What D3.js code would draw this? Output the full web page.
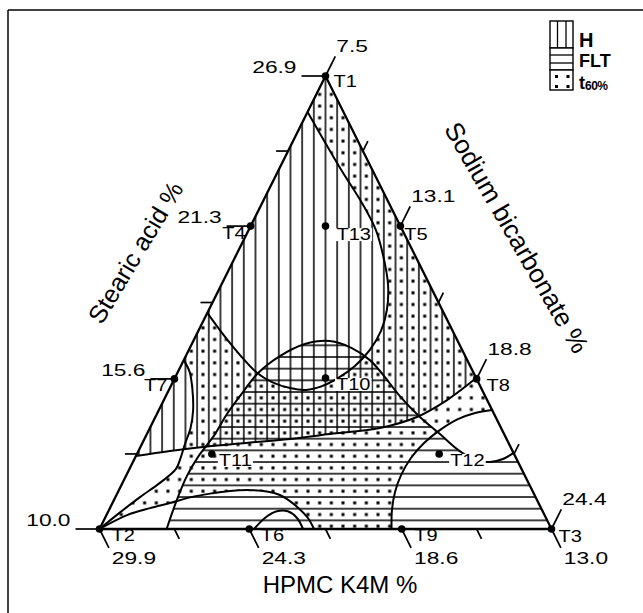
<!DOCTYPE html>
<html><head><meta charset="utf-8">
<script src="https://cdn.jsdelivr.net/npm/d3@7"></script>
<style>
body{margin:0;background:#fff;}
svg{display:block;}
text{font-family:"Liberation Sans",Arial,Helvetica,sans-serif;fill:#000;}
</style></head><body>
<svg id="chart" width="643" height="613"></svg>
<script>
// ---- design points (composition, %) ----
const runs    = ["T1","T2","T3","T4","T5","T6","T7","T8","T9","T10","T11","T12","T13"];
const stearic = [26.9,10.0,10.0,21.3,21.3,10.0,15.6,15.6,10.0,15.6,12.8,12.8,21.3];
const bicarb  = [7.5, 7.5, 24.4,7.5, 13.1,13.1,7.5, 18.8,18.8,13.1,10.3,18.8,10.3];
const hpmc    = [13.0,29.9,13.0,18.6,13.0,24.3,24.3,13.0,18.6,18.6,24.3,15.8,15.8];

// ---- axis tick labels ----
const saTicks = [10.0, 15.6, 21.3, 26.9];
const sbTicks = [7.5, 13.1, 18.8, 24.4];
const hpTicks = [29.9, 24.3, 18.6, 13.0];

// ---- region boundaries, [stearic %, sodium bicarbonate %] ----
const loopT60 = [[25.56,7.5],[23.47,9.76],[22.09,11.31],[21.15,12.26],[20.22,12.99],[19.10,13.74],[18.17,14.16],[17.39,14.33],[16.68,14.27],[16.08,14.01],[15.63,13.60],[15.33,13.15],[15.19,12.63],[15.26,11.99],[15.48,11.21],[15.86,10.42],[16.49,9.51],[17.27,8.48],[18.06,7.5]];
const leftT60 = [[16.30,7.5],[15.86,7.94],[15.19,8.38],[14.44,8.78],[13.77,9.02],[13.17,9.11],[12.69,9.20],[12.24,9.24],[11.72,8.90],[11.19,8.42],[10.62,7.96],[10.0,7.5]];
const lowT60  = [[10.0,7.5],[10.52,8.27],[10.78,9.00],[10.97,9.65],[11.18,10.30],[11.32,10.97],[11.42,11.67],[11.45,12.40],[11.40,13.06],[11.27,13.61],[11.04,14.10],[10.73,14.63],[10.41,15.09],[10.0,15.52]];
const rightT60= [[14.44,19.96],[14.33,19.38],[14.10,18.85],[13.69,18.38],[13.21,18.03],[12.65,17.82],[12.01,17.77],[11.38,17.86],[10.71,18.08],[10.0,18.42]];
const hBound  = [[12.72,7.5],[12.91,8.68],[13.08,9.98],[13.21,11.37],[13.36,12.94],[13.56,14.45],[13.77,16.10],[14.18,17.28],[14.81,18.09],[15.63,18.77]];
const fltDome = [[10.0,10.01],[11.08,9.85],[11.98,9.78],[12.69,9.84],[13.13,9.95],[13.54,10.05],[14.29,10.12],[15.11,10.31],[15.82,10.52],[16.45,11.02],[16.90,11.73],[17.01,12.61],[16.75,13.56],[16.30,14.46],[15.75,15.23],[14.96,16.25],[14.18,17.39],[13.54,18.46],[12.95,19.43],[12.57,20.25],[12.50,20.85],[12.61,21.28],[12.84,21.56]];
const fltArc  = [[10.0,13.28],[10.41,13.48],[10.66,13.80],[10.66,14.21],[10.41,14.68],[10.0,15.11]];

// ---- projection built from linear scales ----
const ySA = d3.scaleLinear().domain([10, 26.9]).range([529, 76]);
const xSA = d3.scaleLinear().domain([10, 26.9]).range([0, 226]);
const xSB = d3.scaleLinear().domain([7.5, 24.4]).range([99.5, 551.5]);
const proj = (sa, sb) => [xSB(sb) + xSA(sa), ySA(sa)];
const projRun = i => {
  const a = stearic[i]-10, b = hpmc[i]-13, c = bicarb[i]-7.5, s = a+b+c;
  return proj(10 + 16.9*a/s, 7.5 + 16.9*c/s);
};
const T1 = proj(26.9, 7.5), T2 = proj(10, 7.5), T3 = proj(10, 24.4);

const svg = d3.select("#chart");
svg.append("rect").attr("width",643).attr("height",613).attr("fill","#fff");

const P = 11.67;
const defs = svg.append("defs");
const vp = defs.append("pattern").attr("id","vh").attr("patternUnits","userSpaceOnUse")
  .attr("width",P).attr("height",P).attr("x",T1[0]-P/2).attr("y",0);
vp.append("line").attr("x1",P/2).attr("x2",P/2).attr("y1",-1).attr("y2",P+1).attr("stroke","#000").attr("stroke-width",1.5);
const hp = defs.append("pattern").attr("id","hh").attr("patternUnits","userSpaceOnUse")
  .attr("width",P).attr("height",P).attr("x",0).attr("y",357-P/2);
hp.append("line").attr("y1",P/2).attr("y2",P/2).attr("x1",-1).attr("x2",P+1).attr("stroke","#000").attr("stroke-width",1.5);
const dp = defs.append("pattern").attr("id","dh").attr("patternUnits","userSpaceOnUse")
  .attr("width",P).attr("height",P).attr("x",T1[0]).attr("y",357);
dp.append("rect").attr("x",P/2-1.5).attr("y",P/2-1.5).attr("width",3).attr("height",3).attr("fill","#000");

const lineGen = d3.line().curve(d3.curveCatmullRom.alpha(0.5));
const pathOf = pts => lineGen(pts.map(p => proj(p[0], p[1])));

// regions
const hRegion = pathOf(hBound) + `L${T1}Z`;
const fltRegion = pathOf(fltDome) + `L${T3}Z`;
const triPath = `M${T1}L${T2}L${T3}Z`;
const dotRegion = triPath + pathOf(loopT60) + "Z" + pathOf(leftT60) + "Z" + pathOf(lowT60) + "Z" + pathOf(rightT60) + `L${T3}Z`;

svg.append("path").attr("d", hRegion).attr("fill","url(#vh)");
svg.append("path").attr("d", fltRegion).attr("fill","url(#hh)");
svg.append("path").attr("d", dotRegion).attr("fill","url(#dh)").attr("fill-rule","evenodd");

// boundary curves
[loopT60, leftT60, lowT60, rightT60, hBound, fltDome, fltArc].forEach(c => {
  svg.append("path").attr("d", pathOf(c)).attr("fill","none").attr("stroke","#000").attr("stroke-width",2);
});

// triangle
svg.append("path").attr("d", triPath).attr("fill","none").attr("stroke","#000").attr("stroke-width",2.3).attr("stroke-linejoin","miter");

// ticks
const dR = [0.4464,-0.8947], dB = [0.4464,0.8947];
const mids = arr => d3.pairs(arr).map(([p,q]) => (p+q)/2);
const tickG = svg.append("g").attr("stroke","#000").attr("stroke-width",1.7);
function tick(p, d, len){ tickG.append("line").attr("x1",p[0]).attr("y1",p[1]).attr("x2",p[0]+d[0]*len).attr("y2",p[1]+d[1]*len); return [p[0]+d[0]*len, p[1]+d[1]*len]; }
const lab = svg.append("g").attr("font-size",16);
function stretch(t, f){ const w = t.node().getComputedTextLength(); t.attr("textLength", w*f).attr("lengthAdjust","spacingAndGlyphs"); }

saTicks.forEach(s => {
  const e = tick(proj(s,7.5), [-1,0], 24);
  const t = lab.append("text").attr("x",e[0]-5).attr("y",e[1]-3).attr("text-anchor","end").text(s.toFixed(1));
  stretch(t,1.42);
});
mids(saTicks).forEach(s => tick(proj(s,7.5), [-1,0], 12));
sbTicks.forEach(s => {
  const e = tick(proj(34.4-s,s), dR, 22);
  const t = lab.append("text").attr("x",e[0]+1).attr("y",e[1]-4).text(s.toFixed(1));
  stretch(t,1.42);
});
mids(sbTicks).forEach(s => tick(proj(34.4-s,s), dR, 11));
hpTicks.forEach(h => {
  const e = tick(proj(10,37.4-h), dB, 21);
  const t = lab.append("text").attr("x",e[0]+3).attr("y",e[1]+16).text(h.toFixed(1));
  stretch(t,1.42);
});
mids(hpTicks).forEach(h => tick(proj(10,37.4-h), dB, 11));

// design points
const labelLayout = {T1:[8,11,"start"],T2:[12,12,"start"],T3:[7,13,"start"],T4:[-5,13,"end"],T5:[4,14,"start"],
  T6:[11.5,12,"start"],T7:[-7,12,"end"],T8:[10,12,"start"],T9:[12.5,12,"start"],T10:[10.5,12,"start"],
  T11:[7,12,"start"],T12:[11,12,"start"],T13:[11,14,"start"]};
const inner = ["T10","T11","T12","T13"];
runs.forEach((r,i) => {
  const p = projRun(i);
  const L = labelLayout[r];
  const g = svg.append("g");
  const t = g.append("text").attr("x",p[0]+L[0]).attr("y",p[1]+L[1]).attr("text-anchor",L[2]).attr("font-size",16).text(r);
  stretch(t,1.25);
  if (inner.includes(r)) {
    const bb = t.node().getBBox();
    g.insert("rect","text").attr("x",bb.x-1).attr("y",bb.y+2).attr("width",bb.width+2).attr("height",bb.height-4).attr("fill","#fff");
  }
  svg.append("circle").attr("cx",p[0]).attr("cy",p[1]).attr("r",3.8).attr("fill","#000");
});

// axis titles
svg.append("text").attr("transform","translate(143,257) rotate(-59)").attr("text-anchor","middle").attr("font-size",25).text("Stearic acid %");
svg.append("text").attr("transform","translate(509,242) rotate(60)").attr("text-anchor","middle").attr("font-size",26).text("Sodium bicarbonate %");
svg.append("text").attr("x",340).attr("y",593).attr("text-anchor","middle").attr("font-size",24).text("HPMC K4M %");

// legend
const lg = svg.append("g");
const bx = 550, bw = 23;
const rows = [{y:21,h:27,name:"H"},{y:48,h:22,name:"FLT"},{y:70,h:20,name:"t"}];
rows.forEach(r => lg.append("rect").attr("x",bx).attr("y",r.y).attr("width",bw).attr("height",r.h).attr("fill","#fff").attr("stroke","#000").attr("stroke-width",1.4));
[557.5,566].forEach(x => lg.append("line").attr("x1",x).attr("x2",x).attr("y1",21).attr("y2",48).attr("stroke","#000").attr("stroke-width",1.3));
[55,63].forEach(y => lg.append("line").attr("x1",bx).attr("x2",bx+bw).attr("y1",y).attr("y2",y).attr("stroke","#000").attr("stroke-width",1.3));
[[556.5,76.5],[568,76.5],[556.5,86.5],[568,86.5]].forEach(d => lg.append("rect").attr("x",d[0]-1.5).attr("y",d[1]-1.5).attr("width",3).attr("height",3).attr("fill","#000"));
lg.append("text").attr("x",579).attr("y",47).attr("font-size",20).attr("font-weight","bold").text("H");
lg.append("text").attr("x",579).attr("y",67).attr("font-size",18).attr("font-weight","bold").text("FLT");
const tt = lg.append("text").attr("x",579).attr("y",89).attr("font-size",18).attr("font-weight","bold");
tt.append("tspan").text("t");
tt.append("tspan").attr("font-size",12).attr("dy",1).attr("letter-spacing",-0.5).text("60%");

// frame
svg.append("line").attr("x1",8).attr("x2",643).attr("y1",10).attr("y2",10).attr("stroke","#000").attr("stroke-width",1.5);
svg.append("line").attr("x1",8).attr("x2",8).attr("y1",10).attr("y2",613).attr("stroke","#000").attr("stroke-width",1.5);
</script>
</body></html>
